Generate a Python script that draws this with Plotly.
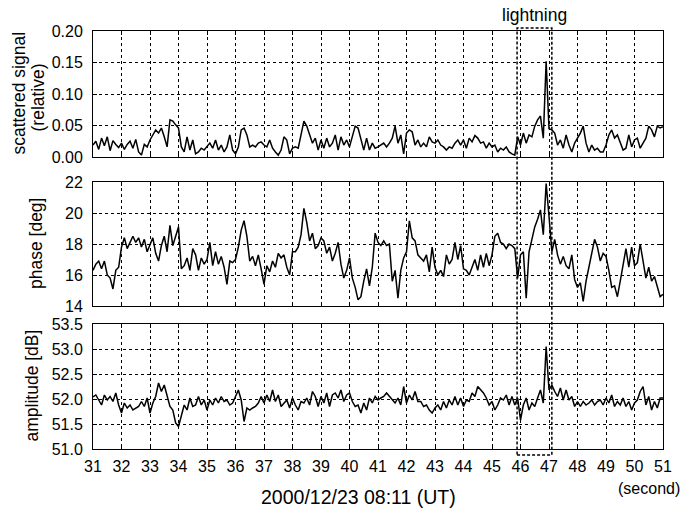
import plotly.graph_objects as go

# sampling times (s), 0.1 s step from 31.0 to 51.0
time_s = [round(31 + 0.1 * i, 1) for i in range(201)]

scattered = [
    0.019, 0.025, 0.012, 0.030, 0.018, 0.032, 0.010, 0.026, 0.020, 0.015,
    0.022, 0.012, 0.020, 0.025, 0.014, 0.028, 0.008, 0.003, 0.020, 0.016,
    0.027, 0.035, 0.043, 0.038, 0.046, 0.032, 0.016, 0.059, 0.057, 0.051,
    0.046, 0.016, 0.008, 0.032, 0.011, 0.027, 0.005, 0.008, 0.014, 0.011,
    0.016, 0.022, 0.014, 0.027, 0.011, 0.019, 0.008, 0.016, 0.035, 0.011,
    0.005, 0.016, 0.043, 0.046, 0.035, 0.016, 0.019, 0.016, 0.022, 0.024,
    0.019, 0.016, 0.027, 0.014, 0.008, 0.003, 0.011, 0.032, 0.027, 0.005,
    0.014, 0.016, 0.014, 0.035, 0.057, 0.049, 0.035, 0.022, 0.030, 0.011,
    0.027, 0.014, 0.030, 0.016, 0.022, 0.035, 0.011, 0.032, 0.019, 0.027,
    0.016, 0.035, 0.049, 0.046, 0.030, 0.011, 0.030, 0.011, 0.022, 0.014,
    0.016, 0.019, 0.022, 0.016, 0.022, 0.030, 0.049, 0.022, 0.035, 0.005,
    0.038, 0.043, 0.040, 0.019, 0.027, 0.016, 0.022, 0.016, 0.032, 0.024,
    0.022, 0.027, 0.019, 0.016, 0.011, 0.016, 0.014, 0.022, 0.027, 0.019,
    0.027, 0.014, 0.030, 0.024, 0.034, 0.030, 0.022, 0.024, 0.014, 0.022,
    0.016, 0.019, 0.008, 0.014, 0.011, 0.016, 0.008, 0.005, 0.003, 0.032,
    0.019, 0.038, 0.022, 0.035, 0.032, 0.049, 0.059, 0.065, 0.030, 0.152,
    0.045, 0.043, 0.038, 0.019, 0.027, 0.014, 0.035, 0.019, 0.008, 0.022,
    0.030, 0.038, 0.049, 0.022, 0.008, 0.019, 0.011, 0.014, 0.008, 0.008,
    0.019, 0.035, 0.043, 0.030, 0.035, 0.022, 0.011, 0.014, 0.035, 0.016,
    0.027, 0.030, 0.014, 0.022, 0.030, 0.049, 0.043, 0.032, 0.049, 0.046,
    0.048,
]

phase_deg = [
    16.3, 16.7, 16.9, 16.4, 16.9, 16.0, 15.8, 15.1, 16.3, 16.5,
    17.8, 18.4, 17.7, 18.1, 18.5, 18.1, 18.4, 17.8, 18.3, 17.5,
    18.0, 18.4, 17.4, 16.9, 17.9, 18.5, 17.5, 19.2, 17.9, 18.5,
    19.1, 16.4, 16.6, 17.1, 16.3, 17.7, 17.3, 16.3, 17.1, 16.7,
    17.0, 18.1, 16.6, 17.5, 16.7, 17.2, 16.5, 15.4, 16.9, 16.8,
    17.0, 17.8, 18.9, 19.5, 18.5, 16.9, 17.2, 16.6, 17.3, 16.4,
    15.4, 16.6, 16.2, 16.9, 16.5, 17.4, 17.1, 17.3, 16.5, 16.0,
    17.5, 17.5, 17.8, 18.6, 20.3, 19.4, 18.2, 18.7, 17.7, 17.9,
    18.4, 18.2, 17.4, 17.8, 16.9, 17.4, 18.1, 16.7, 15.8, 16.3,
    17.1, 15.8, 15.2, 14.4, 14.6, 15.6, 16.4, 15.3, 16.5, 18.7,
    18.1, 17.9, 18.2, 17.9, 18.0, 15.6, 16.3, 14.5, 16.3, 17.1,
    17.5, 19.5, 18.4, 18.2, 17.3, 17.1, 16.9, 17.3, 16.2, 17.8,
    16.5, 16.0, 16.3, 15.9, 17.3, 16.7, 17.0, 18.1, 17.0, 17.9,
    16.4, 16.3, 16.0, 16.5, 17.0, 16.3, 17.3, 16.5, 17.4, 16.6,
    17.3, 18.5, 18.7, 18.1, 18.0, 17.7, 18.0, 17.9, 17.7, 15.8,
    17.3, 17.5, 14.5, 17.5, 18.4, 19.1, 19.6, 20.2, 18.6, 21.9,
    19.8, 17.5, 18.3, 17.3, 16.7, 17.2, 16.6, 16.4, 17.3, 15.7,
    15.2, 15.5, 14.3, 15.6, 16.5, 17.3, 18.3, 17.8, 16.9, 17.4,
    17.2, 16.3, 15.2, 15.3, 14.6, 15.6, 16.6, 17.7, 16.5, 17.8,
    16.6, 16.8, 18.0, 16.9, 15.8, 16.5, 15.6, 15.9, 15.3, 14.6,
    14.75,
]

amplitude_db = [
    52.04, 52.08, 51.98, 51.88, 52.08, 51.98, 52.05, 51.95, 52.12, 51.88,
    51.72, 51.92, 51.82, 51.88, 51.78, 51.82, 51.85, 51.95, 51.85, 52.02,
    51.72, 51.92, 52.05, 52.32, 52.15, 52.28, 52.08, 51.85, 51.78, 51.52,
    51.45, 51.65, 51.88, 51.78, 52.02, 51.85, 51.88, 52.05, 51.88, 51.98,
    51.78, 51.98, 51.88, 52.02, 51.92, 52.05, 51.95, 51.98, 51.88, 51.92,
    52.05, 52.18, 51.98, 51.55, 51.82, 51.78, 51.82, 51.85, 51.92, 52.05,
    51.92, 52.08, 51.95, 52.18, 51.95, 52.08, 51.85, 51.92, 51.98, 51.82,
    52.02, 51.88, 51.78, 51.95, 51.92, 52.02, 51.88, 52.15, 52.05, 51.85,
    52.05, 51.92, 52.12, 51.85, 52.08, 52.12, 52.02, 52.18, 51.95, 52.08,
    52.12, 51.95, 51.85, 51.88, 51.72, 51.92, 51.78, 52.02, 51.92, 52.05,
    51.98, 52.02, 52.05, 52.12, 52.05, 51.98, 51.92, 52.02, 51.88, 52.25,
    51.92, 52.08, 51.98, 52.15, 51.95, 51.95, 51.85, 51.88, 51.78, 51.72,
    51.82, 51.88, 51.78, 51.95, 51.82, 51.98, 51.88, 52.05, 51.88, 52.02,
    51.85, 51.98, 51.95, 52.12, 52.05, 52.25, 52.18, 52.12, 52.02, 51.88,
    51.95, 51.78, 51.88, 52.02, 51.98, 52.08, 51.88, 52.05, 51.88, 52.02,
    51.58, 51.88, 52.02, 51.78, 51.92, 51.85, 52.02, 52.18, 51.92, 53.05,
    52.18, 52.28, 52.15, 52.05, 52.22, 51.98, 52.18, 51.98, 52.05, 51.85,
    51.95, 51.85, 51.95, 51.88, 51.92, 51.98, 51.88, 51.95, 51.98, 51.88,
    52.02, 51.92, 52.08, 51.85, 51.95, 51.88, 52.02, 51.85, 51.95, 51.78,
    51.92, 51.98, 52.15, 52.25, 51.88, 52.05, 51.78, 51.95, 51.82, 52.02,
    52.02,
]

x_ticks = list(range(31, 52))
scatter_ticks = [0.00, 0.05, 0.10, 0.15, 0.20]
scatter_labels = ["0.00", "0.05", "0.10", "0.15", "0.20"]
phase_ticks = [14, 16, 18, 20, 22]
amp_ticks = [51.0, 51.5, 52.0, 52.5, 53.0, 53.5]
amp_labels = ["51.0", "51.5", "52.0", "52.5", "53.0", "53.5"]
lightning_window = [45.88, 47.1]

FONT = "Liberation Sans, Arial, sans-serif"
W, H = 685, 516
L, R, T, B = 93, 22, 31, 67
PH = H - T - B  # 418


def py(p):  # pixel y -> paper y
    return (H - B - p) / PH


def px(p):  # pixel x -> paper x
    return (p - L) / (W - L - R)


line_style = dict(color="black", width=1.5)
fig = go.Figure()
fig.add_trace(go.Scatter(x=time_s, y=scattered, mode="lines", line=line_style, xaxis="x", yaxis="y"))
fig.add_trace(go.Scatter(x=time_s, y=phase_deg, mode="lines", line=line_style, xaxis="x2", yaxis="y2"))
fig.add_trace(go.Scatter(x=time_s, y=amplitude_db, mode="lines", line=line_style, xaxis="x3", yaxis="y3"))

common = dict(
    showline=True, linecolor="black", linewidth=1, mirror="ticks",
    ticks="inside", ticklen=4, tickcolor="black", tickwidth=1,
    showgrid=True, gridcolor="black", gridwidth=1, griddash="3px,3px",
    zeroline=False, tickfont=dict(family=FONT, size=16, color="black"),
)
xcommon = dict(common, range=[31, 51], tickvals=x_ticks, ticklabelstandoff=3)
ycommon = dict(common, ticklabelstandoff=6)

doms = [[py(157), py(31)], [py(306), py(182)], [py(449), py(324)]]

fig.update_layout(
    width=W, height=H, margin=dict(l=L, r=R, t=T, b=B),
    paper_bgcolor="white", plot_bgcolor="white", showlegend=False,
    xaxis=dict(xcommon, anchor="y", showticklabels=False),
    xaxis2=dict(xcommon, anchor="y2", matches="x", showticklabels=False),
    xaxis3=dict(xcommon, anchor="y3", matches="x"),
    yaxis=dict(ycommon, domain=doms[0], range=[0, 0.2], tickvals=scatter_ticks, ticktext=scatter_labels, anchor="x"),
    yaxis2=dict(ycommon, domain=doms[1], range=[14, 22], tickvals=phase_ticks, anchor="x2"),
    yaxis3=dict(ycommon, domain=doms[2], range=[51, 53.5], tickvals=amp_ticks, ticktext=amp_labels, anchor="x3"),
)

# lightning window box spanning all panels
fig.add_shape(type="rect", xref="x", yref="paper",
              x0=lightning_window[0], x1=lightning_window[1], y0=py(455), y1=py(28),
              line=dict(color="black", width=1.5, dash="3px,2px"), fillcolor="rgba(0,0,0,0)")

ann_font = dict(family=FONT, size=17.5, color="black")
fig.add_annotation(text="lightning", xref="x", yref="paper", x=sum(lightning_window) / 2, y=py(15),
                   showarrow=False, font=ann_font, xanchor="center", yanchor="middle")
fig.add_annotation(text="scattered signal", xref="paper", yref="paper", x=px(18), y=py(93.5),
                   textangle=-90, showarrow=False, font=ann_font, xanchor="center", yanchor="middle")
fig.add_annotation(text="(relative)", xref="paper", yref="paper", x=px(37.5), y=py(98),
                   textangle=-90, showarrow=False, font=ann_font, xanchor="center", yanchor="middle")
fig.add_annotation(text="phase [deg]", xref="paper", yref="paper", x=px(36), y=py(244),
                   textangle=-90, showarrow=False, font=ann_font, xanchor="center", yanchor="middle")
fig.add_annotation(text="amplitude [dB]", xref="paper", yref="paper", x=px(31.5), y=py(386),
                   textangle=-90, showarrow=False, font=ann_font, xanchor="center", yanchor="middle")
fig.add_annotation(text="(second)", xref="paper", yref="paper", x=px(682), y=py(488),
                   showarrow=False, font=dict(family=FONT, size=16, color="black"),
                   xanchor="right", yanchor="middle")
fig.add_annotation(text="2000/12/23 08:11 (UT)", xref="paper", yref="paper", x=px(358), y=py(497),
                   showarrow=False, font=dict(family=FONT, size=19.5, color="black"),
                   xanchor="center", yanchor="middle")

fig.write_html("out.html")
